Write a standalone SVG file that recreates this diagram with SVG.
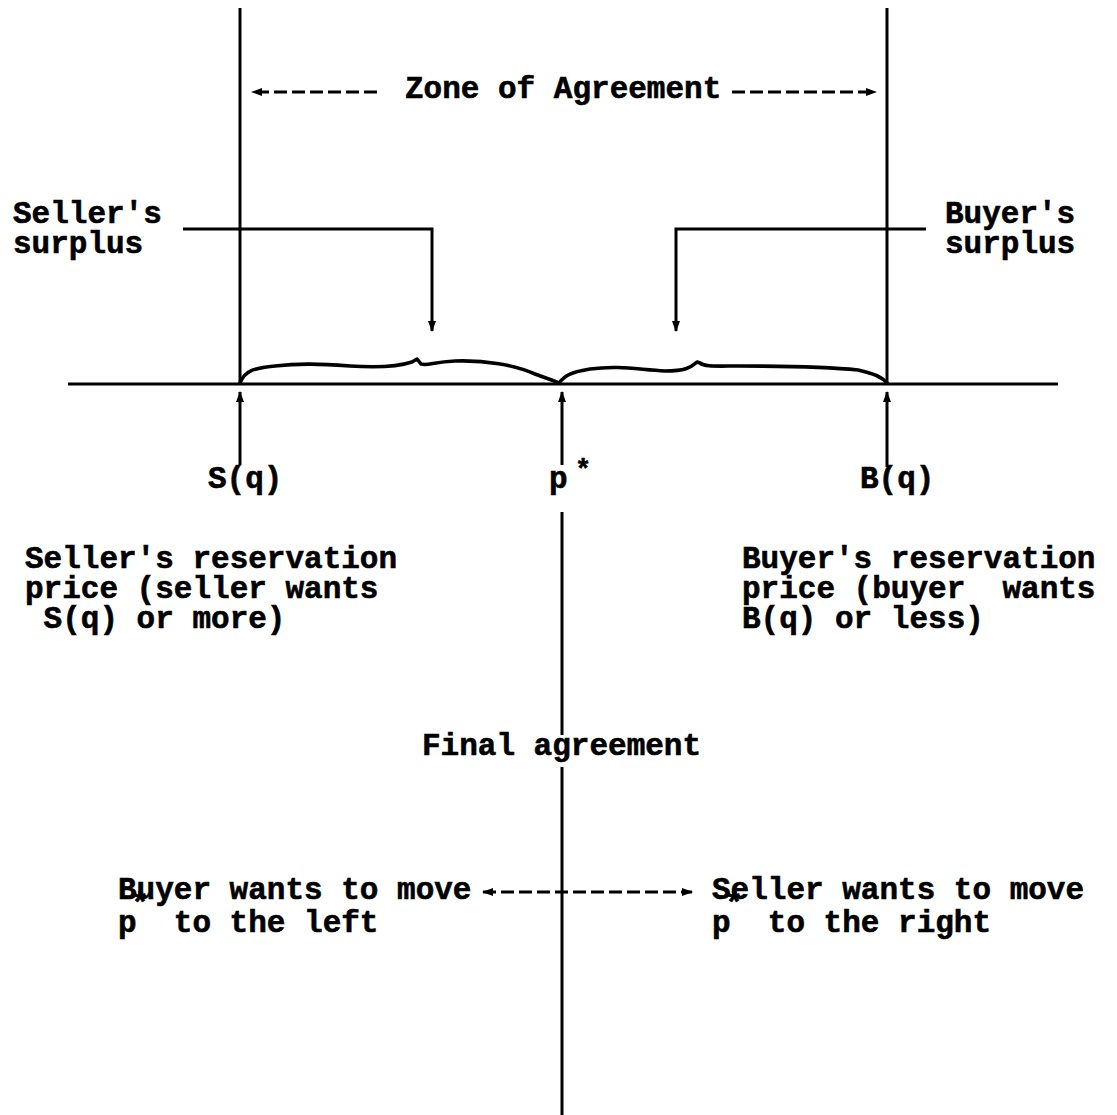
<svg xmlns="http://www.w3.org/2000/svg" width="1117" height="1115" viewBox="0 0 1117 1115">
<style>
text{font-family:"Liberation Mono","Courier New",monospace;font-weight:bold;font-size:31px;fill:#000;stroke:#000;stroke-width:0.6}
.ln{stroke:#000;stroke-width:3;fill:none}
.br{stroke:#000;stroke-width:3.6;fill:none;stroke-linejoin:round;stroke-linecap:round}
.da{stroke:#000;stroke-width:3.2;fill:none;stroke-dasharray:13 5}
.st{font-size:30px}
.st2{font-size:27px}
</style>
<defs>
<marker id="ah" markerWidth="11" markerHeight="10" refX="10" refY="5" orient="auto-start-reverse" markerUnits="userSpaceOnUse">
<path d="M0,1 L11,5 L0,9 Z" fill="#000"/>
</marker>
</defs>
<rect width="1117" height="1115" fill="#fff"/>
<g id="connectors">
<line class="ln" x1="240" y1="8" x2="240" y2="384"/>
<line class="ln" x1="887" y1="8" x2="887" y2="384"/>
<line class="ln" x1="68" y1="384" x2="1058" y2="384" style="stroke-width:3.2"/>
<line class="da" x1="377" y1="92" x2="252" y2="92" marker-end="url(#ah)"/>
<line class="da" x1="732" y1="92" x2="876" y2="92" marker-end="url(#ah)"/>
<polyline class="ln" points="183,229 432,229 432,331" marker-end="url(#ah)"/>
<polyline class="ln" points="926,229 676,229 676,331" marker-end="url(#ah)"/>
<path class="br" d="M240,383 C245,370 255,368 275,366 C300,363 320,364 350,366 C380,368 400,366 412,362 L417,359 L421,364 C428,366 433,362 455,361 C485,360 515,365 535,374 C548,379 553,380 559,383"/>
<path class="br" d="M559,383 C565,375 572,372 590,369 C620,365 640,370 665,371 C685,371 690,368 697,362 L700,363 C705,367 715,366 740,366 C780,366 830,367 858,370 C875,374 882,377 887,383"/>
<line class="ln" x1="240" y1="465" x2="240" y2="392" marker-end="url(#ah)"/>
<line class="ln" x1="562" y1="465" x2="562" y2="392" marker-end="url(#ah)"/>
<line class="ln" x1="887" y1="467" x2="887" y2="392" marker-end="url(#ah)"/>
<line class="ln" x1="562" y1="512" x2="562" y2="735"/>
<line class="ln" x1="562" y1="767" x2="562" y2="1115"/>
<line class="da" x1="483" y1="892" x2="692" y2="892" marker-start="url(#ah)" marker-end="url(#ah)"/>
</g>
<g id="zone-label"><text x="405" y="98">Zone of Agreement</text></g>
<g id="seller-surplus"><text x="13" y="223">Seller's</text><text x="13" y="253">surplus</text></g>
<g id="buyer-surplus"><text x="945" y="223">Buyer's</text><text x="945" y="253">surplus</text></g>
<g id="sq"><text x="208" y="488">S(q)</text></g>
<g id="pstar"><text x="549" y="488">p</text><text class="st2" x="575" y="478">*</text></g>
<g id="bq"><text x="860" y="488">B(q)</text></g>
<g id="seller-res"><text x="25" y="568" xml:space="preserve">Seller's reservation</text><text x="25" y="598" xml:space="preserve">price (seller wants</text><text x="25" y="628" xml:space="preserve"> S(q) or more)</text></g>
<g id="buyer-res"><text x="742" y="568" xml:space="preserve">Buyer's reservation</text><text x="742" y="598" xml:space="preserve">price (buyer  wants</text><text x="742" y="628" xml:space="preserve">B(q) or less)</text></g>
<g id="final"><text x="422" y="755">Final agreement</text></g>
<g id="buyer-move"><text x="118" y="899">Buyer wants to move</text><text x="118" y="932" xml:space="preserve">p  to the left</text><text class="st" x="131" y="913">*</text></g>
<g id="seller-move"><text x="712" y="899">Seller wants to move</text><text x="712" y="932" xml:space="preserve">p  to the right</text><text class="st" x="725" y="913">*</text></g>
</svg>
